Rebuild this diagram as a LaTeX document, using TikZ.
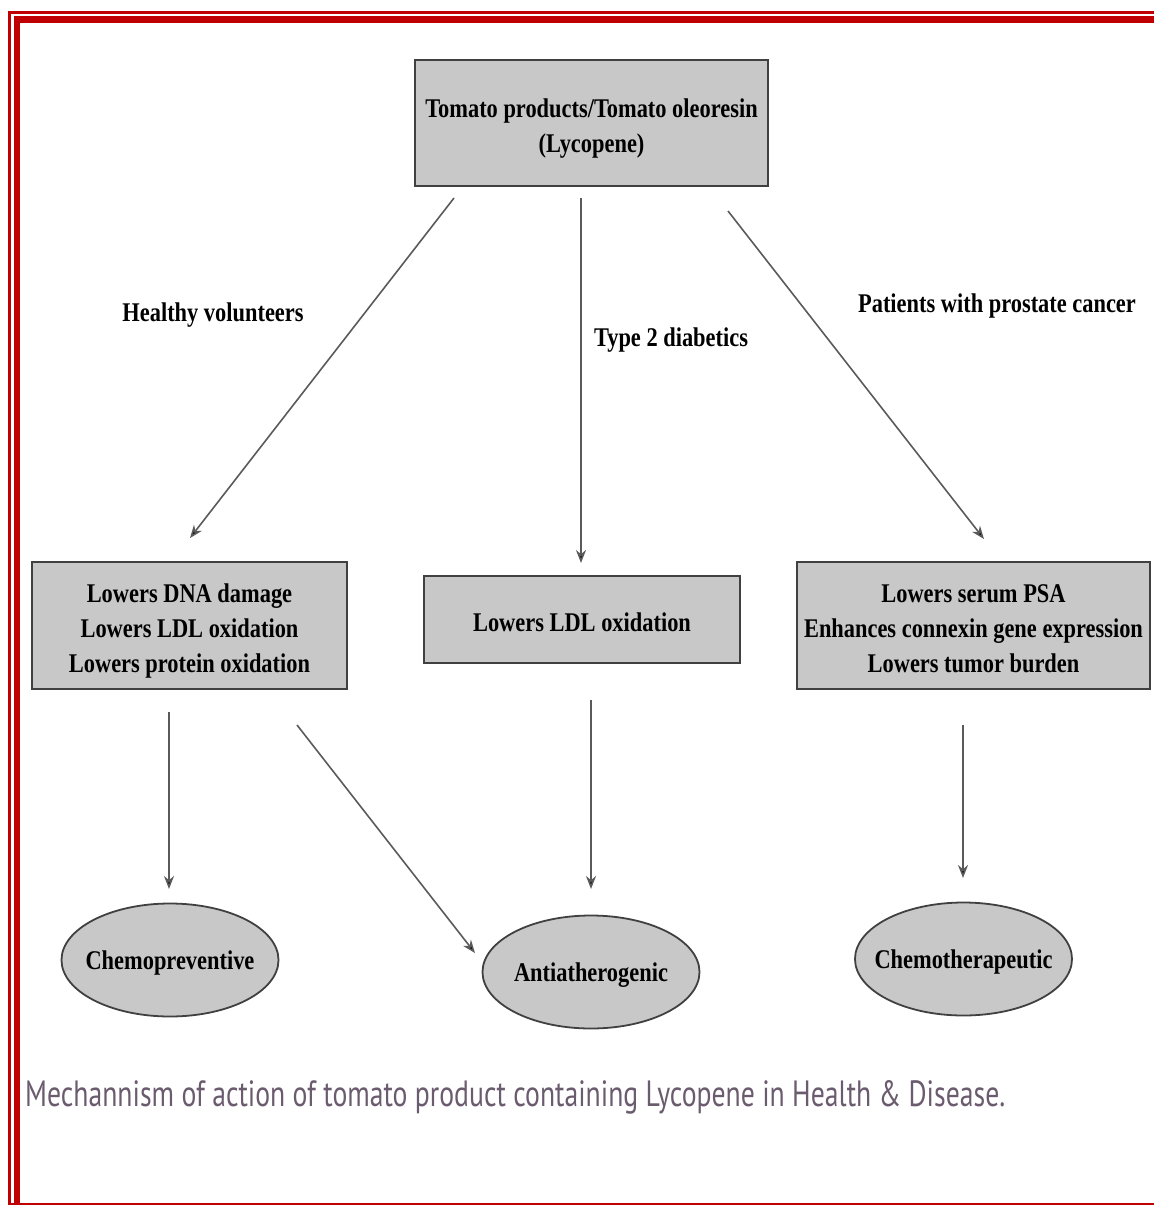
\documentclass[tikz,border=0pt]{standalone}
\usepackage{fontspec}
\setmainfont{Liberation Serif}
\newfontfamily\capfont{PT Sans}
\usetikzlibrary{arrows.meta,shapes.geometric}
\definecolor{frame}{HTML}{C00000}
\definecolor{boxfill}{HTML}{C8C8C8}
\definecolor{boxline}{HTML}{404040}
\definecolor{arr}{HTML}{5A5A5A}
\definecolor{captxt}{HTML}{6B5B6E}
\newcommand{\tx}[1]{\scalebox{0.83}[1]{\begin{tabular}{@{}c@{}}#1\end{tabular}}}
\newcommand{\btx}[1]{\raisebox{-4.5pt}[\height][\depth]{\tx{#1}}}
\tikzset{
  txt/.style={font=\fontsize{27}{35}\selectfont\bfseries, inner sep=0pt},
  gbox/.style={txt, draw=boxline, line width=1.8pt, fill=boxfill, rectangle},
  gell/.style={txt, draw=boxline, line width=1.8pt, fill=boxfill, ellipse, minimum width=217pt, minimum height=113pt},
  elltext/.style={label={[txt, yshift=-2pt]center:\tx{#1}}},
  conn/.style={draw=arr, line width=1.6pt, -{Stealth[length=13pt,width=10pt,fill=black]}},
  lbl/.style={font=\fontsize{27}{35}\selectfont\bfseries, inner sep=0pt}
}
\begin{document}
\begin{tikzpicture}[x=1pt,y=-1pt]
\useasboundingbox (0,0) rectangle (1154,1205);
% frame
\fill[frame] (8,11) rectangle (1154,14);
\fill[frame] (14,16) rectangle (1154,23);
\fill[frame] (8,11) rectangle (11,1205);
\fill[frame] (14,16) rectangle (20,1205);
\fill[frame] (8,1202.5) rectangle (1154,1204.5);
% boxes
\node[gbox, minimum width=353pt, minimum height=126pt] (top) at (591.5,123) {\btx{Tomato products/Tomato oleoresin\\(Lycopene)}};
\node[gbox, minimum width=315pt, minimum height=127pt] (left) at (189.5,625.5) {\btx{Lowers DNA damage\\Lowers LDL oxidation\\Lowers protein oxidation}};
\node[gbox, minimum width=316pt, minimum height=87pt] (mid) at (582,619.5) {\btx{Lowers LDL oxidation}};
\node[gbox, minimum width=353pt, minimum height=127pt] (right) at (973.5,625.5) {\btx{Lowers serum PSA\\Enhances connexin gene expression\\Lowers tumor burden}};
% ellipses
\node[gell, elltext={Chemopreventive}] (chemo) at (170,960) {};
\node[gell, elltext={Antiatherogenic}] (anti) at (591,972) {};
\node[gell, elltext={Chemotherapeutic}] (ther) at (963.5,959) {};
% labels
\node[lbl] (l1) at (213,314) {\tx{Healthy volunteers}};
\node[lbl] (l2) at (671,339) {\tx{Type 2 diabetics}};
\node[lbl] (l3) at (997,305) {\tx{Patients with prostate cancer}};
% connector ends
\coordinate (a1s) at (454,198); \coordinate (a1e) at (190,538);
\coordinate (a2s) at (581,198); \coordinate (a2e) at (581,563);
\coordinate (a3s) at (728,211); \coordinate (a3e) at (984,539);
\coordinate (b1s) at (169,712); \coordinate (b1e) at (169,889);
\coordinate (b2s) at (297,725); \coordinate (b2e) at (475,953);
\coordinate (b3s) at (591,700); \coordinate (b3e) at (591,889);
\coordinate (b4s) at (963,725); \coordinate (b4e) at (963,878);
\draw[conn] (a1s) -- (a1e);
\draw[conn] (a2s) -- (a2e);
\draw[conn] (a3s) -- (a3e);
\draw[conn] (b1s) -- (b1e);
\draw[conn] (b2s) -- (b2e);
\draw[conn] (b3s) -- (b3e);
\draw[conn] (b4s) -- (b4e);
% caption
\node[anchor=base west, inner sep=0pt, text=captxt] (cap) at (25,1106) {\resizebox{980pt}{26pt}{\capfont Mechannism of action of tomato product containing Lycopene in Health \& Disease.}};
\end{tikzpicture}
\end{document}
